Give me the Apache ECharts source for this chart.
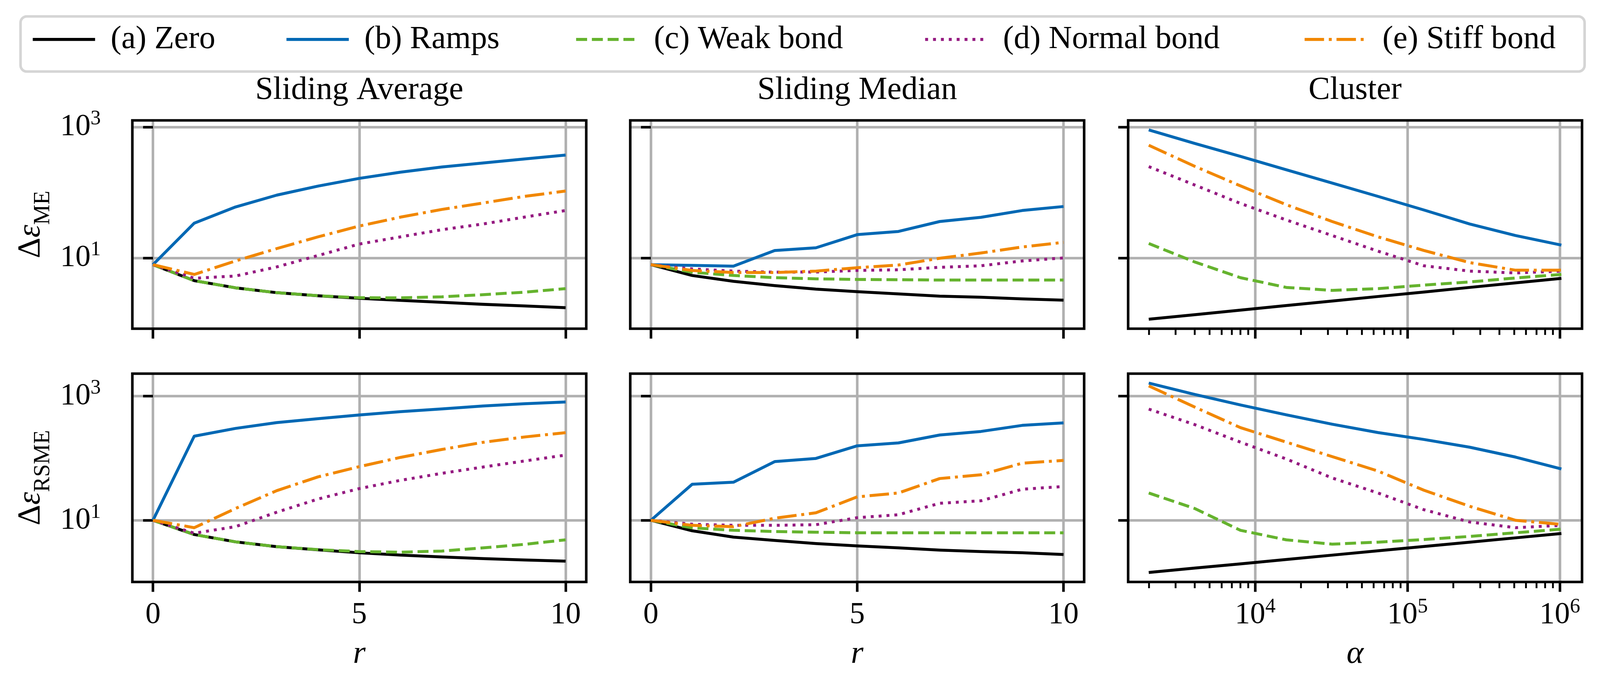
<!DOCTYPE html>
<html>
<head>
<meta charset="utf-8">
<script src="https://cdn.jsdelivr.net/npm/echarts@6.0.0/dist/echarts.min.js"></script>
<style>
  html, body { margin: 0; padding: 0; background: #ffffff; overflow: hidden; }
  #chart { width: 100vw; height: 100vh; }
</style>
</head>
<body>
<div id="chart"></div>
<script>
// ---------------- data ----------------
const seriesNames = ['(a) Zero', '(b) Ramps', '(c) Weak bond', '(d) Normal bond', '(e) Stiff bond'];
const columnTitles = ['Sliding Average', 'Sliding Median', 'Cluster'];

const rValues = [0, 1, 2, 3, 4, 5, 6, 7, 8, 9, 10];
const alphaValues = [2000, 4000, 8000, 16000, 32000, 64000, 128000, 256000, 512000, 1024000];

const rTicks = [0, 5, 10];
const alphaTicks = [10000, 100000, 1000000];
const alphaMinorTicks = [2000, 3000, 4000, 5000, 6000, 7000, 8000, 9000,
  20000, 30000, 40000, 50000, 60000, 70000, 80000, 90000,
  200000, 300000, 400000, 500000, 600000, 700000, 800000, 900000];
const yTicks = [10, 1000];

// Sliding Average, ME
const avgME_zero   = [7.9, 4.5, 3.5, 2.95, 2.65, 2.42, 2.25, 2.1, 1.96, 1.85, 1.74];
const avgME_ramps  = [7.9, 34, 60, 91, 125, 164, 204, 245, 282, 324, 372];
const avgME_weak   = [7.9, 4.5, 3.5, 2.95, 2.65, 2.47, 2.46, 2.55, 2.75, 3.0, 3.4];
const avgME_normal = [7.9, 4.9, 5.3, 7.3, 10.9, 16.3, 21, 27, 33, 42, 53];
const avgME_stiff  = [7.9, 5.6, 9.0, 13.9, 21, 30.7, 42, 55, 69, 87, 105];

// Sliding Median, ME
const medME_zero   = [7.9, 5.4, 4.4, 3.78, 3.34, 3.06, 2.83, 2.61, 2.51, 2.37, 2.27];
const medME_ramps  = [7.9, 7.7, 7.5, 13, 14.3, 22.7, 25.4, 36, 41.7, 53, 61];
const medME_weak   = [7.9, 6.05, 5.4, 5.0, 4.8, 4.7, 4.65, 4.6, 4.6, 4.6, 4.6];
const medME_normal = [7.9, 6.8, 6.3, 6.07, 6.1, 6.45, 6.6, 7.2, 7.6, 9.0, 10];
const medME_stiff  = [7.9, 6.45, 6.0, 6.0, 6.3, 7.1, 7.8, 9.9, 11.9, 14.7, 17.3];

// Cluster, ME
const cluME_zero   = [1.16, 1.36, 1.60, 1.88, 2.20, 2.58, 3.02, 3.55, 4.16, 4.88];
const cluME_ramps  = [900, 560, 355, 222, 139, 87, 54, 33, 22, 15.7];
const cluME_weak   = [16.6, 8.7, 5.0, 3.55, 3.2, 3.4, 3.85, 4.3, 4.95, 5.6];
const cluME_normal = [248, 130, 68, 38, 22, 12.7, 7.6, 6.3, 5.9, 6.3];
const cluME_stiff  = [525, 251, 126, 65, 36, 21, 13, 8.5, 6.5, 6.5];

// Sliding Average, RSME
const avgRS_zero   = [10, 5.9, 4.5, 3.76, 3.35, 3.0, 2.76, 2.57, 2.42, 2.3, 2.2];
const avgRS_ramps  = [10, 226, 301, 373, 431, 495, 560, 620, 690, 750, 803];
const avgRS_weak   = [10, 5.9, 4.5, 3.76, 3.37, 3.14, 3.07, 3.2, 3.6, 4.1, 4.85];
const avgRS_normal = [10, 6.2, 7.9, 13.5, 22, 32.4, 44, 57, 72, 90, 112];
const avgRS_stiff  = [10, 7.6, 15.5, 30, 50, 73, 103, 138, 180, 219, 257];

// Sliding Median, RSME
const medRS_zero   = [10, 6.78, 5.37, 4.74, 4.23, 3.87, 3.6, 3.31, 3.14, 3.0, 2.82];
const medRS_ramps  = [10, 38, 41, 88, 99, 158, 176, 236, 269, 337, 369];
const medRS_weak   = [10, 7.55, 6.9, 6.6, 6.43, 6.3, 6.3, 6.3, 6.3, 6.3, 6.3];
const medRS_normal = [10, 8.65, 8.3, 8.3, 8.5, 11, 12.3, 18.8, 20.6, 31.6, 35];
const medRS_stiff  = [10, 8.3, 7.9, 10.8, 13.2, 23.8, 27.5, 47, 54, 83, 92];

// Cluster, RSME
const cluRS_zero   = [1.445, 1.70, 1.99, 2.34, 2.75, 3.23, 3.79, 4.45, 5.22, 6.14];
const cluRS_ramps  = [1615, 1060, 718, 498, 352, 258, 200, 150, 104, 67];
const cluRS_weak   = [27.5, 15.5, 6.9, 4.85, 4.13, 4.45, 4.9, 5.5, 6.3, 7.2];
const cluRS_normal = [616, 347, 181, 97, 48, 27.5, 14.8, 9.4, 7.6, 8.3];
const cluRS_stiff  = [1455, 665, 310, 181, 106, 62, 30.5, 16.8, 10, 8.6];

// ---------------- style / layout ----------------
const el = document.getElementById('chart');
const VW = el.clientWidth || window.innerWidth || 4364;
const VH = el.clientHeight || window.innerHeight || 1768;
const sx = VW / 4364, sy = VH / 1768, s = Math.min(sx, sy);
const X = v => v * sx, Y = v => v * sy, S = v => v * s;

const FONT = 'Liberation Serif';
const colors = ['#000000', '#0068b4', '#65b32e', '#951b81', '#f18700'];
const dashes = ['solid', 'solid', [30, 13], [8, 13.5], [53, 13, 8, 13]];
const colLeft = [361, 1719, 3077];
const colWidth = 1238;
const rowTop = [308, 956];
const rowHeight = 533;
const yRange = [[0.832, 1259], [1.018, 2291]];
const rRange = [-0.5, 10.5];
const alphaRange = [1464.5, 1399000];
const legendLeft = [85, 777, 1567, 2519, 3554];

const panels = [
  { row: 0, col: 0, xs: rValues, data: [avgME_zero, avgME_ramps, avgME_weak, avgME_normal, avgME_stiff] },
  { row: 0, col: 1, xs: rValues, data: [medME_zero, medME_ramps, medME_weak, medME_normal, medME_stiff] },
  { row: 0, col: 2, xs: alphaValues, data: [cluME_zero, cluME_ramps, cluME_weak, cluME_normal, cluME_stiff] },
  { row: 1, col: 0, xs: rValues, data: [avgRS_zero, avgRS_ramps, avgRS_weak, avgRS_normal, avgRS_stiff] },
  { row: 1, col: 1, xs: rValues, data: [medRS_zero, medRS_ramps, medRS_weak, medRS_normal, medRS_stiff] },
  { row: 1, col: 2, xs: alphaValues, data: [cluRS_zero, cluRS_ramps, cluRS_weak, cluRS_normal, cluRS_stiff] }
];

const dashScaled = d => Array.isArray(d) ? d.map(S) : d;

const tickRich = {
  b: { fontFamily: FONT, fontSize: S(83), lineHeight: S(100), color: '#000', verticalAlign: 'middle' },
  s: { fontFamily: FONT, fontSize: S(56), lineHeight: S(56), color: '#000', verticalAlign: 'top' }
};
const nameRich = {
  m: { fontFamily: FONT, fontSize: S(88), lineHeight: S(100), color: '#000', verticalAlign: 'top' },
  e: { fontFamily: FONT, fontSize: S(88), lineHeight: S(100), color: '#000', fontStyle: 'italic', verticalAlign: 'top' },
  sub: { fontFamily: FONT, fontSize: S(62), lineHeight: S(156), color: '#000', verticalAlign: 'middle' }
};
const gridLine = { show: true, lineStyle: { color: '#b0b0b0', width: S(7) } };
const powLabel = v => '{b|10}{s|' + Math.round(Math.log10(v)) + '}';

const grids = [], xAxes = [], yAxes = [], series = [], graphics = [];

panels.forEach((p, gi) => {
  const left = X(colLeft[p.col]), top = Y(rowTop[p.row]);
  const w = X(colWidth), h = Y(rowHeight);
  grids.push({ left: left, top: top, width: w, height: h, show: false,
               containLabel: false, outerBoundsMode: 'none' });
  const isLog = p.col === 2;
  const bottomRow = p.row === 1;
  xAxes.push({
    gridIndex: gi, type: isLog ? 'log' : 'value', logBase: 10, position: 'bottom',
    min: isLog ? alphaRange[0] : rRange[0], max: isLog ? alphaRange[1] : rRange[1],
    axisLine: { show: false },
    axisTick: { show: true, customValues: isLog ? alphaTicks : rTicks, length: S(27),
                lineStyle: { color: '#000', width: S(7) } },
    axisLabel: { show: bottomRow, customValues: isLog ? alphaTicks : rTicks, margin: S(40),
                 formatter: isLog ? powLabel : (v => '{b|' + v + '}'), rich: tickRich },
    splitLine: gridLine,
    minorTick: { show: false }, minorSplitLine: { show: false },
    name: bottomRow ? (isLog ? 'α' : 'r') : '',
    nameLocation: 'middle', nameGap: S(147), nameMoveOverlap: false,
    nameTextStyle: { fontFamily: FONT, fontSize: S(88), fontStyle: 'italic', color: '#000', lineHeight: S(100) }
  });
  yAxes.push({
    gridIndex: gi, type: 'log', logBase: 10, position: 'left',
    min: yRange[p.row][0], max: yRange[p.row][1],
    axisLine: { show: false },
    axisTick: { show: true, customValues: yTicks, length: S(27), lineStyle: { color: '#000', width: S(7) } },
    axisLabel: { show: p.col === 0, customValues: yTicks, margin: S(86), formatter: powLabel, rich: tickRich },
    splitLine: gridLine,
    minorTick: { show: false }, minorSplitLine: { show: false },
    name: p.col === 0 ? (p.row === 0 ? '{m|Δ}{e|ε}{sub|ME}' : '{m|Δ}{e|ε}{sub|RSME}') : '',
    nameLocation: 'middle', nameGap: S(165), nameMoveOverlap: false,
    nameTextStyle: { rich: nameRich, fontFamily: FONT, fontSize: S(88), color: '#000' }
  });
  p.data.forEach((arr, si) => {
    series.push({
      type: 'line', name: seriesNames[si], xAxisIndex: gi, yAxisIndex: gi,
      data: p.xs.map((x, j) => [x, arr[j]]),
      symbol: 'none', showSymbol: false, smooth: false, silent: true,
      lineStyle: { color: colors[si], width: S(8), type: dashScaled(dashes[si]), cap: 'butt', join: 'round' },
      itemStyle: { color: colors[si] },
      emphasis: { disabled: true }
    });
  });
  // panel frame (spines)
  graphics.push({ type: 'rect', z: 100, silent: true,
    shape: { x: left, y: top, width: w, height: h },
    style: { fill: 'none', stroke: '#000', lineWidth: S(7) } });
});

// minor ticks on the logarithmic alpha axes
panels.forEach((p, gi) => {
  if (p.col !== 2) return;
  xAxes.push({
    gridIndex: gi, type: 'log', logBase: 10, position: 'bottom',
    min: alphaRange[0], max: alphaRange[1],
    axisLine: { show: false },
    axisTick: { show: true, customValues: alphaMinorTicks, length: S(17), lineStyle: { color: '#000', width: S(5) } },
    axisLabel: { show: false }, splitLine: { show: false }
  });
});

// column titles
columnTitles.forEach((t, c) => {
  graphics.push({ type: 'text', x: X(colLeft[c] + colWidth / 2), y: Y(231), silent: true,
    style: { text: t, fontFamily: FONT, fontSize: S(88), fill: '#000', align: 'center', verticalAlign: 'middle' } });
});

// legend frame
graphics.push({ type: 'rect', z: -1, silent: true,
  shape: { x: X(56), y: Y(42), width: X(4266), height: Y(141), r: S(17) },
  style: { fill: '#ffffff', stroke: '#d5d5d5', lineWidth: S(7) } });

const legends = seriesNames.map((n, i) => ({
  data: [n], left: X(legendLeft[i]) - S(5), top: Y(106) - S(55), orient: 'horizontal',
  itemWidth: S(170), itemHeight: S(100), selectedMode: false,
  lineStyle: { width: S(8) },
  itemStyle: { color: 'rgba(0,0,0,0)', borderWidth: 0, opacity: 0 },
  textStyle: { fontFamily: FONT, fontSize: S(88), color: '#000', padding: [0, 0, 0, S(37)] }
}));

const chart = echarts.init(el);
chart.setOption({
  backgroundColor: '#ffffff',
  animation: false,
  legend: legends,
  grid: grids,
  xAxis: xAxes,
  yAxis: yAxes,
  series: series,
  graphic: graphics
});
</script>
</body>
</html>
